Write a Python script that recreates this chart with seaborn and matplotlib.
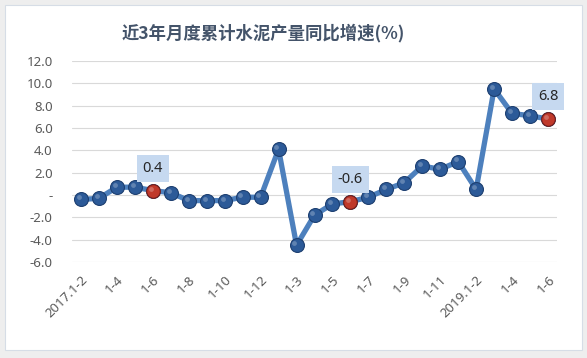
import matplotlib
matplotlib.use("Agg")
import matplotlib.pyplot as plt
import seaborn as sns
import pandas as pd
from matplotlib.patches import Rectangle

# ---- data ----
periods = (
    ["2017.1-2", "2017.1-3", "2017.1-4", "2017.1-5", "2017.1-6", "2017.1-7", "2017.1-8",
     "2017.1-9", "2017.1-10", "2017.1-11", "2017.1-12"]
    + ["2018.1-2", "2018.1-3", "2018.1-4", "2018.1-5", "2018.1-6", "2018.1-7", "2018.1-8",
       "2018.1-9", "2018.1-10", "2018.1-11", "2018.1-12"]
    + ["2019.1-2", "2019.1-3", "2019.1-4", "2019.1-5", "2019.1-6"]
)
growth = [-0.4, -0.3, 0.7, 0.7, 0.4, 0.2, -0.5, -0.5, -0.5, -0.2, -0.2,
          4.1, -4.5, -1.8, -0.8, -0.6, -0.2, 0.5, 1.1, 2.6, 2.3, 3.0,
          0.5, 9.5, 7.3, 7.1, 6.8]
tick_labels = ["2017.1-2", "1-4", "1-6", "1-8", "1-10", "1-12", "1-3", "1-5",
               "1-7", "1-9", "1-11", "2019.1-2", "1-4", "1-6"]
highlight_idx = [4, 15, 26]
y_ticks = [-6, -4, -2, 0, 2, 4, 6, 8, 10, 12]
y_tick_labels = ["-6.0", "-4.0", "-2.0", "-", "2.0", "4.0", "6.0", "8.0", "10.0", "12.0"]
title = "近3年月度累计水泥产量同比增速(%)"

df = pd.DataFrame({"x": range(len(periods)), "period": periods, "growth": growth})
hl = df.iloc[highlight_idx]

sns.set_theme(style="white")
plt.rcParams["font.family"] = ["Noto Sans CJK SC", "DejaVu Sans"]

fig = plt.figure(figsize=(5.87, 3.58), dpi=100)
fig.patch.set_facecolor("#eeeeee")
# white chart panel
panel = Rectangle((5 / 587, 8 / 358), 577 / 587, 345 / 358, transform=fig.transFigure,
                  facecolor="white", edgecolor="#d6dde6", linewidth=0.8, zorder=-10)
fig.patches.append(panel)

ax = fig.add_axes([72 / 587, (358 - 262) / 358, 485 / 587, 201 / 358])
ax.set_zorder(5)
ax.set_facecolor("none")

sns.lineplot(data=df, x="x", y="growth", ax=ax, color="#4d80bd", linewidth=3.8,
             marker="o", markersize=10, markerfacecolor="#2c5a98",
             markeredgecolor="#1d3f70", markeredgewidth=0.8, zorder=3)
sns.scatterplot(data=hl, x="x", y="growth", ax=ax, color="#c0392b", s=95,
                edgecolor="#7a1f1a", linewidth=0.8, zorder=4)
# small highlights for sphere look
ax.scatter(df["x"] - 0.12, df["growth"] + 0.18, s=12, color="white", alpha=0.25, zorder=5, linewidths=0)

for _, r in hl.iterrows():
    ax.annotate(f"{r['growth']:.1f}", (r["x"], r["growth"]), xytext=(0, 16),
                textcoords="offset points", ha="center", va="center", fontsize=10.5,
                color="#262626", family=["Noto Sans", "DejaVu Sans"],
                bbox=dict(boxstyle="square,pad=0.42", facecolor="#c6d9f0", edgecolor="none"),
                zorder=6)

ax.set_xlim(-0.5, len(periods) - 0.5)
ax.set_ylim(-6, 12)
ax.set_yticks(y_ticks)
ax.set_yticklabels(y_tick_labels, family=["Noto Sans", "DejaVu Sans"], fontsize=9.5, color="#595959")
ax.set_xticks(list(range(0, len(periods), 2)))
ax.set_xticklabels(tick_labels, rotation=45, ha="right", va="top", rotation_mode="anchor",
                   family=["Noto Sans", "DejaVu Sans"], fontsize=9.5, color="#595959")
ax.tick_params(axis="y", length=0, pad=14)
ax.tick_params(axis="x", length=0, pad=8)
ax.grid(axis="y", color="#d9d9d9", linewidth=0.8)
ax.set_axisbelow(True)
for s in ax.spines.values():
    s.set_visible(False)
ax.set_xlabel("")
ax.set_ylabel("")

fig.text(263 / 587, 1 - 33 / 358, title, ha="center", va="center", fontsize=12.5,
         fontweight="bold", color="#44546a", family=["Noto Sans CJK SC", "DejaVu Sans"])

fig.savefig("out.png", dpi=100, facecolor=fig.get_facecolor())
